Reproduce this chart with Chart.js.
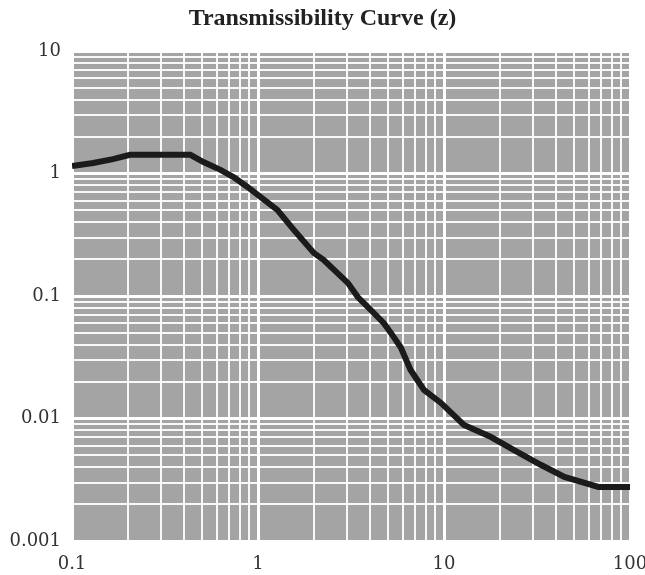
<!DOCTYPE html>
<html>
<head>
<meta charset="utf-8">
<script src="https://cdn.jsdelivr.net/npm/chart.js@4/dist/chart.umd.min.js"></script>
<style>
  html, body { margin: 0; padding: 0; background: #ffffff; }
  #c { display: block; }
</style>
</head>
<body>
<canvas id="c" width="645" height="575"></canvas>
<script>
// ---- data ----
const chartTitle = 'Transmissibility Curve (z)';
const freqRatio = [0.1, 0.13, 0.166, 0.205, 0.433, 0.509, 0.628, 0.738, 0.878, 1.03, 1.27, 1.55, 2.0, 2.25, 3.04, 3.44, 3.7, 4.75, 5.18, 5.86, 6.6, 7.8, 9.63, 12.8, 17.9, 23.8, 33.3, 44.4, 67.6, 100];
const transmissibility = [1.15, 1.22, 1.31, 1.42, 1.42, 1.24, 1.07, 0.936, 0.776, 0.643, 0.504, 0.35, 0.224, 0.197, 0.128, 0.098, 0.088, 0.060, 0.050, 0.038, 0.025, 0.0171, 0.0134, 0.00885, 0.00706, 0.00553, 0.00417, 0.00333, 0.00276, 0.00276];
const xTickLabels = ['0.1', '1', '10', '100'];
const yTickLabels = ['0.001', '0.01', '0.1', '1', '10'];
const minorSteps = [1, 2, 3, 4, 5, 6, 7, 8, 9];

function buildLogTicks(labels) {
  const decades = labels.map(Number);
  const vals = [];
  for (let i = 0; i < decades.length; i++) {
    if (i === decades.length - 1) { vals.push(decades[i]); break; }
    for (const m of minorSteps) vals.push(Number((decades[i] * m).toPrecision(6)));
  }
  return vals;
}
function labelFor(labels, value) {
  for (const l of labels) {
    if (Math.abs(Math.log10(value) - Math.log10(Number(l))) < 1e-6) return l;
  }
  return '';
}
function isDecade(labels, value) { return labelFor(labels, value) !== ''; }

const bgPlugin = {
  id: 'plotBg',
  beforeDraw(chart) {
    const a = chart.chartArea, ctx = chart.ctx;
    ctx.save();
    ctx.fillStyle = '#a4a4a4';
    ctx.fillRect(a.left, a.top, a.right - a.left, a.bottom - a.top);
    ctx.restore();
  }
};

const tickFont = { family: '"DejaVu Serif", serif', size: 18 };

new Chart(document.getElementById('c'), {
  type: 'line',
  data: {
    datasets: [{
      data: freqRatio.map((x, i) => ({ x: x, y: transmissibility[i] })),
      borderColor: '#1b1b1b',
      borderWidth: 6,
      pointRadius: 0,
      tension: 0,
      fill: false
    }]
  },
  options: {
    responsive: false,
    animation: false,
    layout: { padding: 0 },
    plugins: {
      legend: { display: false },
      tooltip: { enabled: false },
      title: {
        display: true,
        text: chartTitle,
        color: '#222',
        font: { family: '"Liberation Serif", serif', size: 24, weight: 'bold' },
        padding: { top: 4, bottom: 18.2 }
      }
    },
    scales: {
      x: {
        type: 'logarithmic',
        min: 0.1, max: 100,
        border: { display: false },
        grid: {
          drawTicks: false,
          color: (c) => c.tick && isDecade(xTickLabels, c.tick.value) ? '#ffffff' : 'rgba(255,255,255,0.92)',
          lineWidth: (c) => c.tick && isDecade(xTickLabels, c.tick.value) ? 3 : 2
        },
        afterBuildTicks: (s) => { s.ticks = buildLogTicks(xTickLabels).map(v => ({ value: v })); },
        afterFit: (s) => { s.height = 34; s.paddingRight = 15; },
        ticks: {
          autoSkip: false, maxRotation: 0, minRotation: 0,
          padding: 13, color: '#333', font: tickFont,
          callback: (v) => labelFor(xTickLabels, v)
        }
      },
      y: {
        type: 'logarithmic',
        min: 0.001, max: 10,
        border: { display: false },
        grid: {
          drawTicks: false,
          color: (c) => c.tick && isDecade(yTickLabels, c.tick.value) ? '#ffffff' : 'rgba(255,255,255,0.92)',
          lineWidth: (c) => c.tick && isDecade(yTickLabels, c.tick.value) ? 3 : 2
        },
        afterBuildTicks: (s) => { s.ticks = buildLogTicks(yTickLabels).map(v => ({ value: v })); },
        afterFit: (s) => { s.width = 72; },
        ticks: {
          autoSkip: false,
          padding: 11, color: '#333', font: tickFont,
          callback: (v) => labelFor(yTickLabels, v)
        }
      }
    }
  },
  plugins: [bgPlugin]
});
</script>
</body>
</html>
